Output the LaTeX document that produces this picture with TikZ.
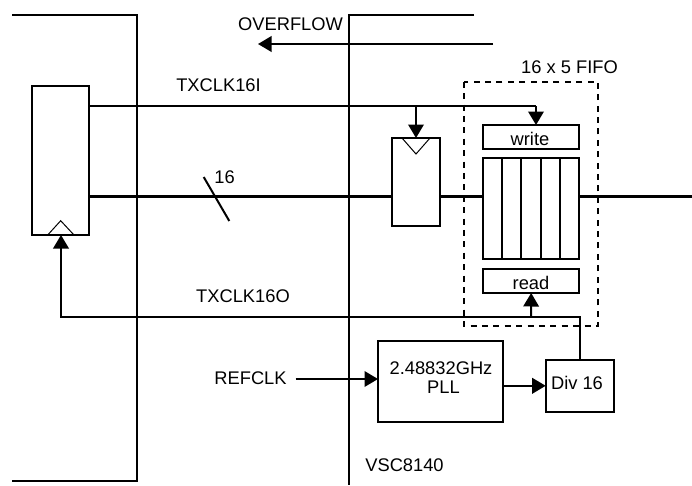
\documentclass[tikz,border=0pt]{standalone}
\usepackage{fontspec}
\setmainfont{Liberation Sans}
\usetikzlibrary{arrows.meta}
\tikzset{
  >={Triangle[length=13.5pt,width=15.5pt]},
  wire/.style={line width=2pt},
  bus/.style={line width=3.2pt},
  box/.style={draw,line width=2pt,inner sep=0pt,outer sep=0pt,align=center},
  lbl/.style={inner sep=0pt,font=\fontsize{18.3}{18.3}\selectfont},
  clocktip/.style={line width=1pt}
}
\begin{document}
\begin{tikzpicture}[x=1pt,y=-1pt]
\useasboundingbox (0,0) rectangle (692,485);
\coordinate (ltop) at (12,15);
\coordinate (lbot) at (12,481);
\coordinate (rtop) at (474,15);
\coordinate (rbot) at (349,485);
\coordinate (ovfa) at (493,44);
\coordinate (ovfb) at (258,44);
\coordinate (out) at (692,196.5);
\coordinate (refin) at (295.5,379);
\coordinate (slasha) at (203.7,177);
\coordinate (slashb) at (229.3,221);
% chips
\draw[wire] (ltop) -- (137,15) -- (137,481) -- (lbot);
\draw[wire] (rtop) -- (349,15) -- (rbot);
% boxes
\node[box,minimum width=57pt,minimum height=149pt] (lreg) at (60.5,160.5) {};
\node[box,minimum width=48.6pt,minimum height=88pt] (mreg) at (416,182) {};
\node[box,minimum width=96.3pt,minimum height=24pt] (write) at (531.2,137) {};
\node[box,minimum width=96.3pt,minimum height=101pt] (fifo) at (531.2,208.2) {};
\node[box,minimum width=96.3pt,minimum height=24pt] (read) at (531.2,281) {};
\node[box,minimum width=125pt,minimum height=81pt] (pll) at (440.5,381.5) {};
\node[box,minimum width=68.6pt,minimum height=52.3pt] (div) at (580,385.8) {};
\draw[wire] (502,157.7) -- (502,258.7);
\draw[wire] (521,157.7) -- (521,258.7);
\draw[wire] (541,157.7) -- (541,258.7);
\draw[wire] (560,157.7) -- (560,258.7);
\draw[clocktip] (47.7,235) -- (60.7,220.7) -- (74,235);
\draw[clocktip] (402,138) -- (416,154) -- (430,138);
\draw[wire,dash pattern=on 6pt off 5.4pt] (464,81.7) rectangle (598,326);
% data path
\draw[bus] (lreg.east |- out) -- (mreg.west |- out);
\draw[bus] (mreg.east |- out) -- (fifo.west |- out);
\draw[bus] (fifo.east |- out) -- (out);
\draw[wire] (slasha) -- (slashb);
% clocks
\coordinate (txi) at (536,106);
\coordinate (txo) at (531,317);
\coordinate (lclk) at (61,317);
\draw[wire] (lreg.east |- txi) -- (txi);
\draw[wire,->] (txi) -- (txi |- write.north);
\draw[wire,->] (mreg.north |- txi) -- (mreg.north);
\draw[wire,->] (div.north) |- (lclk) -- (lclk |- lreg.south);
\draw[wire,->] (txo) -- (read.south);
\draw[wire,->] (ovfa) -- (ovfb);
\draw[wire,->] (refin) -- (pll.west |- refin);
\draw[wire,->] (pll.east |- div.west) -- (div.west);
% labels
\node[lbl] (ovflbl) at (290.5,24) {OVERFLOW};
\node[lbl] (txilbl) at (218.5,85) {TXCLK16I};
\node[lbl] (buslbl) at (224.5,177) {16};
\node[lbl] (fifolbl) at (569.5,67) {16 x 5 FIFO};
\node[lbl] (wrlbl) at (530,138.5) {write};
\node[lbl] (rdlbl) at (531,282.5) {read};
\node[lbl] (txolbl) at (243,296) {TXCLK16O};
\node[lbl] (reflbl) at (250.5,378.5) {REFCLK};
\node[lbl] (ghzlbl) at (441,368.5) {2.48832GHz};
\node[lbl] (plllbl) at (443.5,387) {PLL};
\node[lbl] (divlbl) at (577,382.5) {Div 16};
\node[lbl] (chiplbl) at (404.5,465) {VSC8140};
\end{tikzpicture}
\end{document}
